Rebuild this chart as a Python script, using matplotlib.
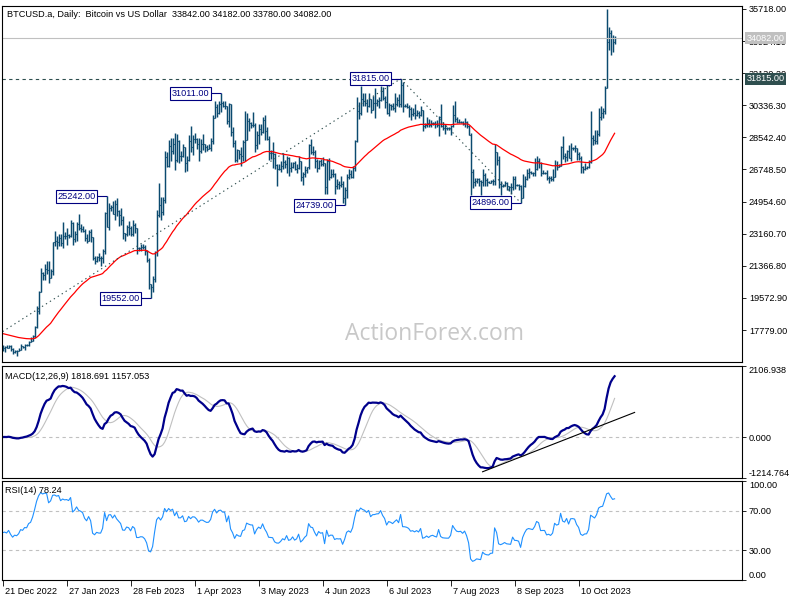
import numpy as np
import pandas as pd
import matplotlib
matplotlib.use("Agg")
import matplotlib.pyplot as plt
import matplotlib.transforms as mtransforms

plt.rcParams['font.family'] = ['Liberation Sans', 'DejaVu Sans']
plt.rcParams['font.size'] = 6.6

# BTCUSD.a daily bars, 21 Dec 2022 .. 28 Oct 2023 (broker skips a few holiday days)
highs = [
    # Dec
    16920, 16870, 16950, 16930, 16960, 16780, 16660, 16640,
    # Jan
    16780, 16990, 16880, 16990, 16970, 17170, 17400, 17490, 17990, 19100, 19950, 21250, 21000, 21450, 21630,
    21650, 21200, 22700, 23300, 23060, 23160, 23140, 23800, 23240, 23500, 23170, 23950, 23800, 23300,
    # Feb
    23810, 24250, 23700, 23580, 23430, 23150, 23360, 23450, 22990, 21900, 21900, 22070, 21890, 22310, 24370,
    25242, 24890, 24740, 25000, 25050, 25130, 24470, 24600, 24150, 23210, 23670, 23880, 23600,
    # Mar
    23940, 23780, 23480, 22420, 22610, 22590, 22540, 22270, 21800, 20370, 20800, 22180, 24500, 26000, 25230,
    25200, 27760, 27720, 28400, 28500, 28500, 28800, 28750, 28400, 27800, 28200, 28000, 27500, 28650, 29170, 28650,
    # Apr
    28800, 28530, 28500, 28450, 28750, 28180, 28100, 28150, 28500, 29770, 30550, 30420, 30600, 31011, 30600,
    30550, 30320, 30480, 30420, 29100, 28370, 27900, 27850, 28000, 28370, 30000, 29880, 29600, 29420, 29950,
    # May
    29330, 28900, 29270, 29300, 29700, 29800, 29100, 28600, 27850, 28300, 27650, 27080, 27030, 27200, 27650,
    27270, 27480, 27470, 27180, 27150, 27250, 27050, 27480, 27230, 26620, 26920, 26880, 28200, 28450, 28050, 27830,
    # Jun
    27350, 27300, 27330, 27450, 27130, 27350, 27380, 26800, 26780, 26530, 26200, 26100, 26400, 26100, 25750,
    26500, 26780, 26700, 26950, 28400, 30800, 30500, 31400, 31000, 31050, 30670, 31000, 30700, 30830, 31280,
    # Jul
    30680, 30800, 31400, 31350, 30880, 31500, 30450, 30400, 30450, 31050, 30800, 30980, 31815, 31650, 30390,
    30450, 30350, 30250, 30200, 30400, 30050, 29990, 30320, 30100, 29320, 29680, 29570, 29520, 29400, 29450, 29500,
    # Aug
    29750, 30400, 29400, 29300, 29100, 29150, 29250, 30350, 30600, 29700, 29550, 29480, 29450, 29650, 29450,
    29230, 28800, 26800, 26300, 26270, 26250, 26150, 26800, 26550, 26300, 26100, 26170, 26220, 28150, 27750, 27500,
    # Sep
    26100, 25950, 26100, 26050, 25850, 26000, 26400, 26400, 25950, 25950, 25900, 26500, 26400, 26800, 26850,
    26650, 26620, 27400, 27500, 27400, 27150, 26730, 26630, 26700, 26400, 26400, 26800, 27300, 27250, 27080,
    # Oct
    28050, 28600, 27650, 27850, 28100, 28250, 28000, 28100, 27950, 27750, 27480, 26950, 27100, 26950, 27300,
    30000, 28650, 28950, 28950, 30200, 30300, 30200, 31400, 35718, 34730, 34550, 34270, 34182,
]
lows = [
    # Dec
    16620, 16560, 16760, 16790, 16600, 16460, 16480, 16330,
    # Jan
    16600, 16650, 16750, 16680, 16900, 16900, 17100, 17150, 17310, 17900, 18700, 19900, 20600, 20600, 20900,
    20400, 20670, 20870, 22450, 22300, 22500, 22470, 22340, 22870, 22550, 22900, 23000, 22550, 22720,
    # Feb
    22760, 23380, 23250, 23250, 22760, 22630, 22750, 22680, 21700, 21470, 21600, 21640, 21350, 21530, 22050,
    23520, 23350, 24440, 24240, 23900, 24150, 23590, 23630, 22850, 22780, 23060, 23110, 23030,
    # Mar
    23030, 23200, 22000, 22170, 22210, 22300, 21950, 21600, 20050, 19552, 19900, 20440, 21900, 24100, 23950,
    24200, 24900, 26880, 26880, 27250, 27600, 26700, 27170, 27100, 27250, 27420, 26600, 26670, 27250, 27700, 27550,
    # Apr
    28250, 27870, 27250, 27670, 27830, 27730, 27780, 27870, 27810, 28180, 29600, 29700, 29870, 29970, 30220,
    30120, 29270, 29100, 28600, 28000, 27150, 27150, 27350, 26970, 27200, 27250, 28380, 28880, 29060, 29120,
    # May
    27700, 27900, 28150, 28700, 28800, 28400, 28400, 27300, 27350, 26850, 26750, 25810, 26700, 26600, 26750,
    26850, 26580, 26400, 26620, 26830, 26700, 26550, 26800, 26100, 25880, 26350, 26570, 26800, 27600, 27580, 26850,
    # Jun
    26600, 26800, 26930, 26970, 25400, 25400, 26150, 26300, 26320, 25400, 25650, 25650, 25750, 24850, 24739,
    25170, 26200, 26300, 26250, 26650, 28300, 29550, 29820, 30300, 30300, 29950, 30250, 29900, 30050, 29600,
    # Jul
    30320, 30200, 30570, 30650, 30200, 29870, 29720, 30050, 30100, 29950, 30300, 30250, 30250, 29950, 30250,
    30200, 29700, 29500, 29750, 29580, 29730, 29650, 29750, 28900, 29050, 29100, 29100, 29130, 29260, 29050, 29100,
    # Aug
    28600, 29100, 28950, 28750, 28950, 28950, 28700, 29120, 29400, 29350, 29350, 29370, 29250, 29100, 29050,
    28700, 25300, 25700, 25800, 26000, 25850, 25350, 25800, 25850, 25800, 25980, 25970, 25880, 25900, 27000, 25700,
    # Sep
    25350, 25750, 25800, 25600, 25550, 25400, 25600, 25650, 25800, 25600, 24896, 25150, 25750, 26150, 26250,
    26500, 26400, 26400, 26700, 26850, 26370, 26500, 26520, 26150, 25990, 26100, 26100, 26330, 26700, 26880,
    # Oct
    26950, 27320, 27150, 27250, 27380, 27200, 27850, 27700, 27300, 27300, 26550, 26550, 26700, 26800, 26850,
    27100, 28100, 28150, 28200, 28600, 29500, 29650, 29850, 31300, 33430, 33150, 33330, 33780,
]
closes = [
    # Dec
    16800, 16830, 16780, 16910, 16700, 16540, 16630, 16600,
    # Jan
    16680, 16860, 16830, 16950, 16940, 17120, 17180, 17440, 17940, 18850, 19930, 20950, 20880, 21170, 21160,
    20690, 21080, 22670, 22780, 22710, 22930, 22630, 23060, 23010, 23080, 23030, 23740, 22840, 23140,
    # Feb
    23730, 23490, 23430, 23330, 22940, 22760, 23260, 22960, 21800, 21630, 21860, 21790, 21780, 22200, 24330,
    23520, 24570, 24630, 24280, 24830, 24440, 24190, 23950, 23190, 23160, 23560, 23490, 23150,
    # Mar
    23650, 23470, 22360, 22350, 22430, 22410, 22200, 21700, 20360, 20190, 20630, 22160, 24200, 24750, 24380,
    25060, 27420, 26970, 28040, 27770, 28180, 27300, 28350, 27480, 27490, 28000, 27130, 27260, 28350, 28030, 28480,
    # Apr
    28450, 28200, 27800, 28170, 28170, 28030, 27920, 27950, 28330, 29650, 30240, 29890, 30400, 30490, 30320,
    30320, 29450, 30400, 28820, 28250, 27280, 27820, 27590, 27520, 28300, 28420, 29470, 29340, 29250, 29230,
    # May
    28090, 28680, 29030, 28850, 29530, 28900, 28450, 27690, 27650, 27620, 26990, 26800, 26780, 26930, 27170,
    27030, 27400, 26830, 26890, 27120, 26750, 26850, 27230, 26330, 26480, 26720, 26870, 28090, 27750, 27700, 27220,
    # Jun
    26820, 27250, 27070, 27120, 25760, 27240, 26350, 26500, 26480, 25850, 25940, 25900, 25920, 25130, 25590,
    26340, 26510, 26340, 26850, 28330, 30030, 29910, 30700, 30550, 30470, 30270, 30690, 30080, 30450, 30480,
    # Jul
    30590, 30620, 31160, 30770, 30510, 29900, 30350, 30290, 30170, 30410, 30620, 30390, 31480, 30310, 30300,
    30250, 30140, 29860, 29910, 29800, 29910, 29790, 30080, 29180, 29230, 29350, 29210, 29320, 29360, 29280, 29230,
    # Aug
    29700, 29180, 29070, 29050, 29040, 29040, 29180, 29770, 29580, 29430, 29400, 29420, 29310, 29420, 29170,
    28700, 26620, 26050, 26100, 26190, 26120, 26040, 26430, 26160, 26050, 26010, 26090, 26100, 27720, 27300, 25930,
    # Sep
    25800, 25870, 25970, 25810, 25780, 25750, 26240, 25910, 25900, 25830, 25160, 25840, 26230, 26530, 26610,
    26570, 26530, 26760, 27210, 27130, 26570, 26580, 26580, 26260, 26300, 26220, 26350, 27020, 26910, 26970,
    # Oct
    27990, 27500, 27430, 27790, 27410, 27950, 27970, 27940, 27590, 27390, 26870, 26760, 26860, 26870, 27150,
    28520, 28420, 28330, 28720, 29680, 29920, 29990, 31300, 33900, 34400, 34100, 33850, 34082,
]

date_bars = [0, 32, 64, 96, 128, 160, 192, 224, 256, 288]
date_labels = ["21 Dec 2022", "27 Jan 2023", "28 Feb 2023", "1 Apr 2023", "3 May 2023",
               "4 Jun 2023", "6 Jul 2023", "7 Aug 2023", "8 Sep 2023", "10 Oct 2023"]

price_ticks = [17779.00, 19572.90, 21366.80, 23160.70, 24954.60, 26748.50,
               28542.40, 30336.30, 32130.20, 33924.10, 35718.00]
macd_ticks = [-1214.764, 0.0, 2106.938]
rsi_ticks = [0, 30, 70, 100]

# swing high/low labels
swing_bars = [52, 74, 109, 171, 199, 259]
swing_prices = [25242.00, 19552.00, 31011.00, 24739.00, 31815.00, 24896.00]

# hand drawn lines
trend_up = ([0, 199], [17690, 31815])
trend_down = ([199, 259], [31815, 24896])
macd_trend = ([240, 316], [-1030, 730])

resistance = 31815.00
last_price = 34082.00
ema_start = 17610.0     # 55 EMA value at the first bar
rsi_seed = (110.0, 120.0)

title = "BTCUSD.a, Daily:  Bitcoin vs US Dollar  33842.00 34182.00 33780.00 34082.00"

# ---- indicators
n = len(closes)
x = np.arange(n)
close = pd.Series(closes, dtype=float)
opens = np.r_[closes[0], closes[:-1]]

ema55 = []
v = ema_start
for c in closes:
    v = v + 2.0 / 56 * (c - v)
    ema55.append(v)

macd = close.ewm(span=12, adjust=False).mean() - close.ewm(span=26, adjust=False).mean()
signal = macd.rolling(9, min_periods=1).mean()

rsi = []
ag, al = rsi_seed
diff = np.diff(closes, prepend=closes[0])
for d in diff:
    ag = (ag * 13 + max(d, 0)) / 14
    al = (al * 13 + max(-d, 0)) / 14
    rsi.append(100 - 100 / (1 + ag / al))

# ---- figure
bar_col = '#0b4a6f'
slate = '#2f4f4f'
navy = '#000080'

fig = plt.figure(figsize=(8, 6), dpi=100)
W, H = 800.0, 600.0


def box(l, t, r, b):
    return [l / W, 1 - b / H, (r - l) / W, (b - t) / H]


ax = fig.add_axes(box(2, 6, 742, 362))
axm = fig.add_axes(box(2, 366, 742, 478), sharex=ax)
axr = fig.add_axes(box(2, 481, 742, 580), sharex=ax)

for a in (ax, axm, axr):
    for s in a.spines.values():
        s.set_linewidth(0.8)
        s.set_color('black')
    a.yaxis.tick_right()
    a.tick_params(axis='y', length=3, width=0.6, pad=2, labelsize=6.6, colors='black')
    a.tick_params(axis='x', length=0)
    a.set_xlim(-0.3, 369.7)

# price bars
ax.vlines(x, lows, highs, color=bar_col, lw=1.05)
ax.hlines(closes, x, x + 0.45, color=bar_col, lw=0.8)
ax.hlines(opens, x - 0.45, x, color=bar_col, lw=0.8)
ax.plot(x, ema55, color='red', lw=0.9)

ax.axhline(resistance, color=slate, lw=0.8, ls=(0, (3, 3)))
ax.axhline(last_price, color='#c0c0c0', lw=0.8)
ax.plot(*trend_up, color=slate, lw=0.8, ls=(0, (1.2, 3)))
ax.plot(*trend_down, color=slate, lw=0.8, ls=(0, (1.2, 3)))

for b, p in zip(swing_bars, swing_prices):
    ax.hlines(p, b - 5.3, b, color=navy, lw=0.8)
    ax.text(b - 5.5, p, "%.2f" % p, ha='right', va='center', color=navy, fontsize=6.6,
            bbox=dict(boxstyle='square,pad=0.2', fc='white', ec=navy, lw=0.8), zorder=5)

ax.set_ylim(15991, 35885)
ax.set_yticks(price_ticks)
ax.set_yticklabels(["%.2f" % t for t in price_ticks])
plt.setp(ax.get_xticklabels(), visible=False)

tr = mtransforms.blended_transform_factory(ax.transAxes, ax.transData)
ax.text(1.006, last_price, "%.2f" % last_price, transform=tr, ha='left', va='center',
        color='white', fontsize=6.6, clip_on=False, zorder=6,
        bbox=dict(boxstyle='square,pad=0.15', fc='#c0c0c0', ec='none'))
ax.text(1.006, resistance, "%.2f" % resistance, transform=tr, ha='left', va='center',
        color='white', fontsize=6.6, clip_on=False, zorder=6,
        bbox=dict(boxstyle='square,pad=0.15', fc=slate, ec='none'))

ax.text(0.007, 0.99, title, transform=ax.transAxes, ha='left', va='top', fontsize=6.6)
ax.text(0.585, 0.08, "ActionForex.com", transform=ax.transAxes, ha='center', va='center',
        fontsize=16.5, color='#c8c8c8', family=['Open Sans', 'DejaVu Sans'])

# MACD
axm.axhline(0, color='#c0c0c0', lw=0.8, ls=(0, (3, 3)))
axm.plot(x, signal, color='#c0c0c0', lw=0.8)
axm.plot(x, macd, color='#00008b', lw=1.6)
axm.plot(*macd_trend, color='black', lw=0.8)
axm.set_ylim(macd_ticks[0], macd_ticks[-1])
axm.set_yticks(macd_ticks)
axm.set_yticklabels(["%.3f" % t for t in macd_ticks])
labs = axm.get_yticklabels()
labs[0].set_va('bottom')
labs[-1].set_va('top')
plt.setp(axm.get_xticklabels(), visible=False)
axm.text(0.004, 0.95, "MACD(12,26,9) 1818.691 1157.053", transform=axm.transAxes,
         ha='left', va='top', fontsize=6.6)

# RSI
for lv in (30, 70):
    axr.axhline(lv, color='#c0c0c0', lw=0.8, ls=(0, (3, 3)))
axr.plot(x, rsi, color='#1e90ff', lw=0.8)
axr.set_ylim(0, 100)
axr.set_yticks(rsi_ticks)
axr.set_yticklabels(["%.2f" % t for t in rsi_ticks])
labs = axr.get_yticklabels()
labs[0].set_va('bottom')
labs[-1].set_va('top')
axr.text(0.004, 0.95, "RSI(14) 78.24", transform=axr.transAxes, ha='left', va='top', fontsize=6.6)

axr.set_xticks(date_bars)
axr.set_xticklabels(date_labels)
axr.tick_params(axis='x', length=4, width=0.6, pad=1, labelsize=6.6)
off = mtransforms.ScaledTranslation(2 / 100.0, 0, fig.dpi_scale_trans)
for lab in axr.get_xticklabels():
    lab.set_horizontalalignment('left')
    lab.set_transform(lab.get_transform() + off)

fig.savefig("out.png", dpi=100)
